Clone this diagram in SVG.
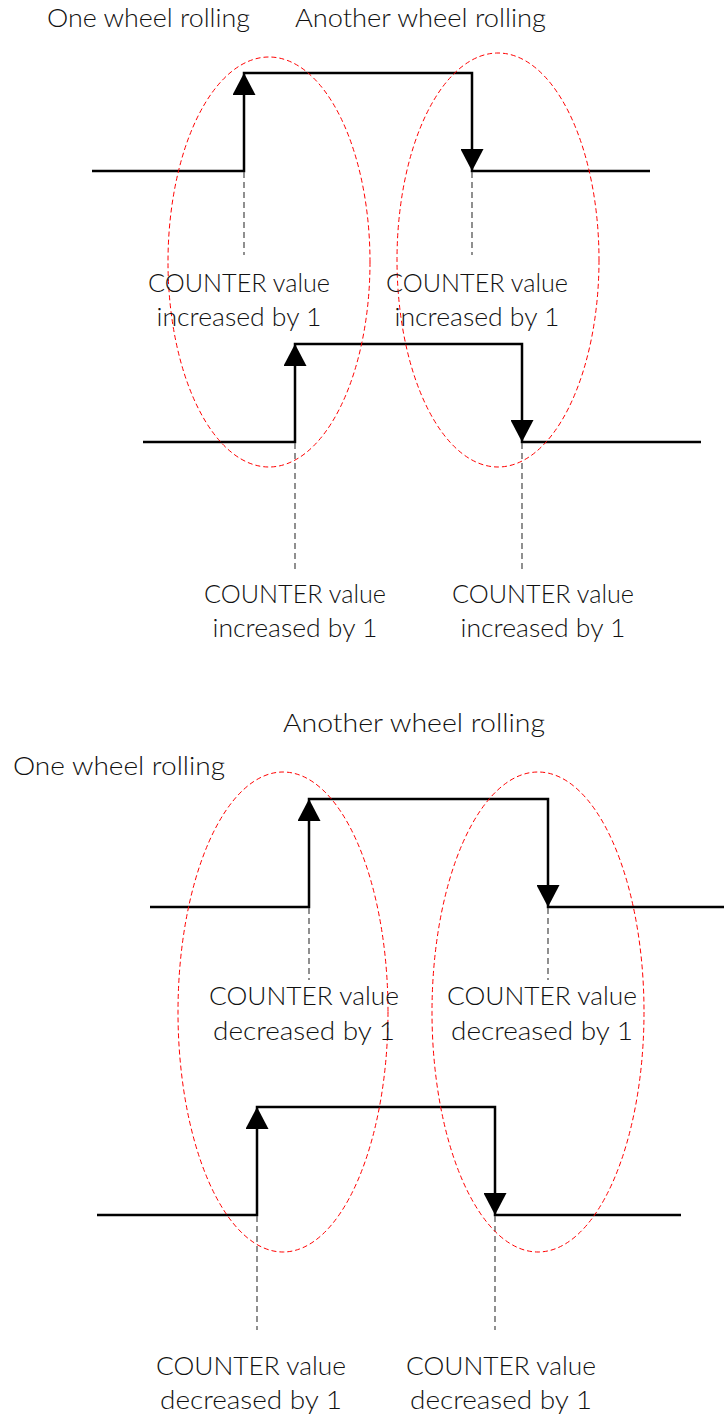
<svg xmlns="http://www.w3.org/2000/svg" width="724" height="1417" viewBox="0 0 724 1417">
<style>
  .wave { fill: none; stroke: #000; stroke-width: 2.5; stroke-linejoin: miter; }
  .tick { fill: none; stroke: #555; stroke-width: 1.3; stroke-dasharray: 6 4; }
  .zone { fill: none; stroke: #ff0000; stroke-width: 1; stroke-dasharray: 5 3; }
  .lbl { font-family: Lato, "Liberation Sans", sans-serif; font-weight: 300; font-size: 25px; fill: #111; text-anchor: middle; }
  .hdr { font-family: Lato, "Liberation Sans", sans-serif; font-weight: 300; font-size: 25px; fill: #111; }
  .arr { fill: none; stroke: none; }
</style>
<defs>
  <marker id="ah" markerUnits="userSpaceOnUse" markerWidth="23" markerHeight="23" refX="22" refY="11.5" orient="auto">
    <path d="M0,0 L22,11.5 L0,23 Z" fill="#000"/>
  </marker>
</defs>
<rect width="724" height="1417" fill="#fff"/>

<g id="headers">
  <text class="hdr" x="47" y="27" textLength="203" lengthAdjust="spacingAndGlyphs">One wheel rolling</text>
  <text class="hdr" x="295" y="27" textLength="251" lengthAdjust="spacingAndGlyphs">Another wheel rolling</text>
  <text class="hdr" x="283" y="732" textLength="262" lengthAdjust="spacingAndGlyphs">Another wheel rolling</text>
  <text class="hdr" x="13" y="775" textLength="212" lengthAdjust="spacingAndGlyphs">One wheel rolling</text>
</g>

<g id="signals">
  <path id="wave1" class="wave" d="M92,171 H244 V73 H472 V171 H650"/>
  <path id="wave2" class="wave" d="M143,442 H295 V344 H522 V442 H701"/>
  <path id="wave3" class="wave" d="M150,907 H309 V799 H548 V907 H724"/>
  <path id="wave4" class="wave" d="M97,1215 H257 V1107 H495 V1215 H681"/>
</g>

<g id="connectors">
  <path class="arr" d="M244,110 V73" marker-end="url(#ah)"/>
  <path class="arr" d="M472,130 V171" marker-end="url(#ah)"/>
  <path class="arr" d="M295,380 V344" marker-end="url(#ah)"/>
  <path class="arr" d="M522,400 V442" marker-end="url(#ah)"/>
  <path class="arr" d="M309,840 V799" marker-end="url(#ah)"/>
  <path class="arr" d="M548,860 V907" marker-end="url(#ah)"/>
  <path class="arr" d="M257,1150 V1107" marker-end="url(#ah)"/>
  <path class="arr" d="M495,1170 V1215" marker-end="url(#ah)"/>
  <line class="tick" x1="244" y1="172" x2="244" y2="255"/>
  <line class="tick" x1="472" y1="172" x2="472" y2="255"/>
  <line class="tick" x1="295" y1="443" x2="295" y2="570"/>
  <line class="tick" x1="522" y1="443" x2="522" y2="570"/>
  <line class="tick" x1="309" y1="908" x2="309" y2="980"/>
  <line class="tick" x1="548" y1="908" x2="548" y2="980"/>
  <line class="tick" x1="257" y1="1216" x2="257" y2="1330"/>
  <line class="tick" x1="495" y1="1216" x2="495" y2="1330"/>
</g>

<g id="zones">
  <ellipse id="zone1" class="zone" cx="269" cy="262" rx="101" ry="205"/>
  <ellipse id="zone2" class="zone" cx="498" cy="260" rx="101" ry="207"/>
  <ellipse id="zone3" class="zone" cx="283" cy="1012" rx="105" ry="240"/>
  <ellipse id="zone4" class="zone" cx="538" cy="1012" rx="106" ry="240"/>
</g>

<g id="label1"><text class="lbl" x="239" y="292" textLength="182" lengthAdjust="spacingAndGlyphs">COUNTER value</text><text class="lbl" x="239" y="326" textLength="165" lengthAdjust="spacingAndGlyphs">increased by 1</text></g>
<g id="label2"><text class="lbl" x="477" y="292" textLength="182" lengthAdjust="spacingAndGlyphs">COUNTER value</text><text class="lbl" x="477" y="326" textLength="165" lengthAdjust="spacingAndGlyphs">increased by 1</text></g>
<g id="label3"><text class="lbl" x="295" y="603" textLength="182" lengthAdjust="spacingAndGlyphs">COUNTER value</text><text class="lbl" x="295" y="637" textLength="165" lengthAdjust="spacingAndGlyphs">increased by 1</text></g>
<g id="label4"><text class="lbl" x="543" y="603" textLength="182" lengthAdjust="spacingAndGlyphs">COUNTER value</text><text class="lbl" x="543" y="637" textLength="165" lengthAdjust="spacingAndGlyphs">increased by 1</text></g>
<g id="label5"><text class="lbl" x="304" y="1005" textLength="190" lengthAdjust="spacingAndGlyphs">COUNTER value</text><text class="lbl" x="304" y="1040" textLength="182" lengthAdjust="spacingAndGlyphs">decreased by 1</text></g>
<g id="label6"><text class="lbl" x="542" y="1005" textLength="190" lengthAdjust="spacingAndGlyphs">COUNTER value</text><text class="lbl" x="542" y="1040" textLength="182" lengthAdjust="spacingAndGlyphs">decreased by 1</text></g>
<g id="label7"><text class="lbl" x="251" y="1375" textLength="190" lengthAdjust="spacingAndGlyphs">COUNTER value</text><text class="lbl" x="251" y="1409" textLength="182" lengthAdjust="spacingAndGlyphs">decreased by 1</text></g>
<g id="label8"><text class="lbl" x="501" y="1375" textLength="190" lengthAdjust="spacingAndGlyphs">COUNTER value</text><text class="lbl" x="501" y="1409" textLength="182" lengthAdjust="spacingAndGlyphs">decreased by 1</text></g>
</svg>
